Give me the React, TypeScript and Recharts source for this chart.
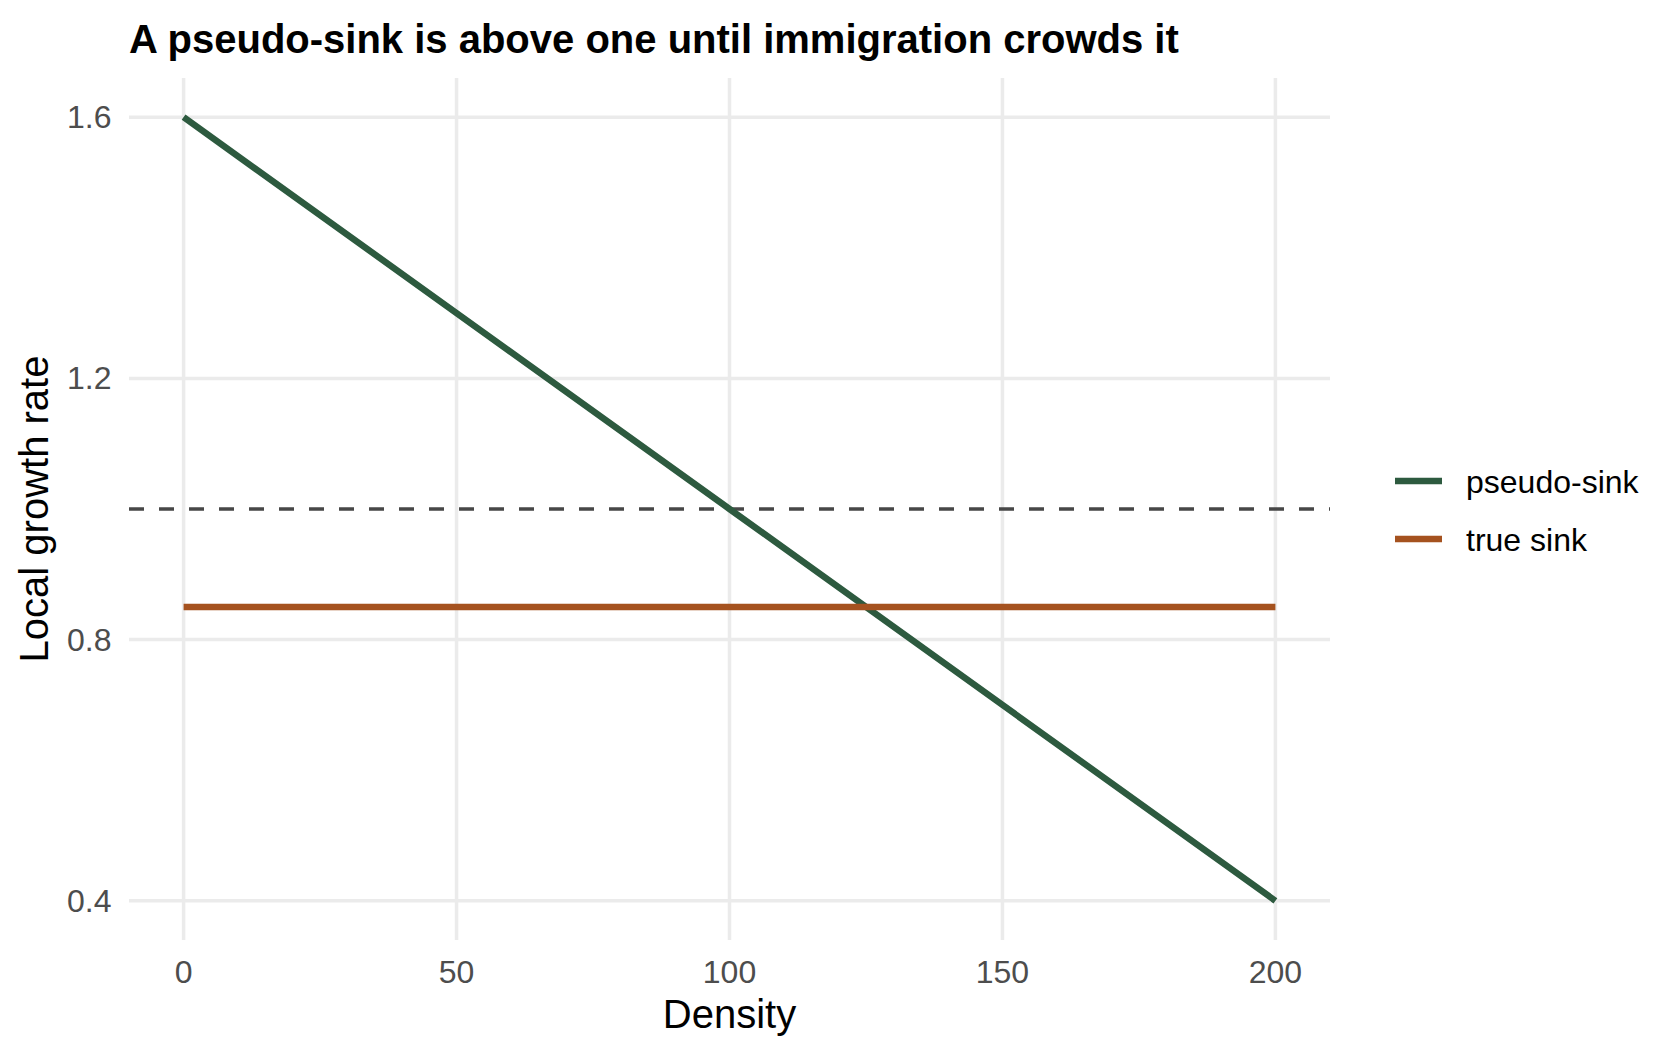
import { LineChart, Line, XAxis, YAxis, ReferenceLine, Legend } from "recharts";

const density = [0, 50, 100, 150, 200];
const pseudoSink = [1.6, 1.3, 1.0, 0.7, 0.4];
const trueSink = [0.85, 0.85, 0.85, 0.85, 0.85];
const xTicks = [0, 50, 100, 150, 200];
const yTicks = [0.4, 0.8, 1.2, 1.6];
const breakEven = 1;

const rows = density.map((d, i) => ({ density: d, pseudo: pseudoSink[i], trueSink: trueSink[i] }));

const FONT = '"Liberation Sans", Arial, Helvetica, sans-serif';
const GREEN = "#2d5a3f";
const ORANGE = "#a5521f";
const GRID = "#ebebeb";

function XTick({ x, y, payload }: any) {
  return (
    <text x={x} y={y + 43} textAnchor="middle" fill="#4d4d4d" fontSize={32} fontFamily={FONT}>
      {payload.value}
    </text>
  );
}

function YTick({ x, y, payload }: any) {
  return (
    <text x={x - 17.5} y={y + 11} textAnchor="end" fill="#4d4d4d" fontSize={32} fontFamily={FONT}>
      {Number(payload.value).toFixed(1)}
    </text>
  );
}

function KeyBox({ payload }: any) {
  return (
    <svg width={300} height={130} style={{ display: "block" }}>
      {(payload || []).map((p: any, i: number) => {
        const cy = 31 + i * 58;
        return (
          <g key={p.value}>
            <line x1={15} x2={62} y1={cy} y2={cy} stroke={p.color} strokeWidth={6.5} />
            <text x={86} y={cy + 11.5} fontSize={32} fontFamily={FONT} fill="#000">{p.value}</text>
          </g>
        );
      })}
    </svg>
  );
}

export default function App() {
  return (
    <div style={{ position: "absolute", left: 0, top: 0, width: 1680, height: 1056, background: "#fff" }}>
      <div
        style={{
          position: "absolute", left: 129, top: 19, fontFamily: FONT, fontWeight: 700,
          fontSize: 40, lineHeight: "40px", color: "#000", whiteSpace: "nowrap", zIndex: 2,
        }}
      >
        A pseudo-sink is above one until immigration crowds it
      </div>
      <LineChart width={1680} height={1056} data={rows} margin={{ top: 78, right: 350, bottom: 0, left: 0 }}>
        <XAxis
          dataKey="density" type="number" domain={[-10, 210]} ticks={xTicks} height={116}
          axisLine={false} tickLine={false} tickSize={0} tickMargin={0} tick={<XTick />}
          label={{
            content: (p: any) => {
              const vb = p.viewBox;
              return (
                <text x={vb.x + vb.width / 2} y={vb.y + 88} textAnchor="middle" fontSize={40} fontFamily={FONT} fill="#000">
                  Density
                </text>
              );
            },
          }}
        />
        <YAxis
          type="number" domain={[0.34, 1.66]} ticks={yTicks} width={129}
          axisLine={false} tickLine={false} tickSize={0} tickMargin={0} tick={<YTick />}
          label={{
            content: (p: any) => {
              const vb = p.viewBox;
              const cx = vb.x + 48;
              const cy = vb.y + vb.height / 2;
              return (
                <text x={cx} y={cy} transform={`rotate(-90, ${cx}, ${cy})`} textAnchor="middle" fontSize={40} fontFamily={FONT} fill="#000">
                  Local growth rate
                </text>
              );
            },
          }}
        />
        {/* major grid, ggplot-style: only at the breaks, no panel border */}
        {xTicks.map((t) => <ReferenceLine key={"gx" + t} x={t} stroke={GRID} strokeWidth={3.5} />)}
        {yTicks.map((t) => <ReferenceLine key={"gy" + t} y={t} stroke={GRID} strokeWidth={3.5} />)}
        <ReferenceLine y={breakEven} stroke="#474747" strokeWidth={3.7} strokeDasharray="15 15" />
        <Line name="pseudo-sink" type="linear" dataKey="pseudo" stroke={GREEN} strokeWidth={6.5} dot={false} activeDot={false} isAnimationActive={false} />
        <Line name="true sink" type="linear" dataKey="trueSink" stroke={ORANGE} strokeWidth={6.5} dot={false} activeDot={false} isAnimationActive={false} />
        <Legend
          layout="vertical" align="center" verticalAlign="middle"
          wrapperStyle={{ left: 1380, top: 450, width: 300 }}
          content={<KeyBox />}
        />
      </LineChart>
    </div>
  );
}
